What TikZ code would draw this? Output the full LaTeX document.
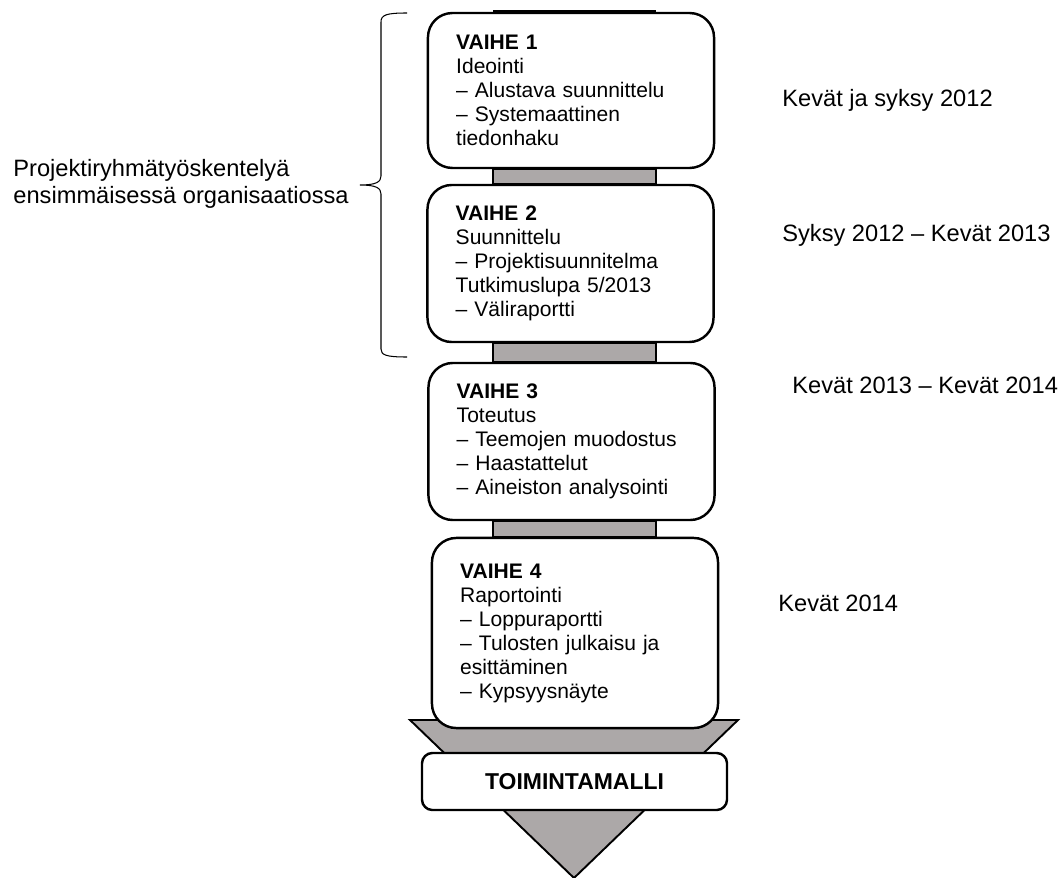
\documentclass[tikz,border=0pt]{standalone}
\usepackage{fontspec}
\setmainfont{Liberation Sans}
\usepackage{tikz}
\definecolor{flowgray}{RGB}{172,168,168}
\usetikzlibrary{calc}

\begin{document}
\begin{tikzpicture}[
    x=0.575pt, y=-0.575pt,
    phase/.style={rectangle, rounded corners=14pt, draw=black, line width=1.4pt, fill=white,
                  text width=132pt, inner xsep=16.25pt, inner ysep=4pt, align=left,
                  font=\fontsize{12.1}{13.8}\selectfont},
    joint/.style={draw=black, line width=1.1pt, fill=flowgray},
    sidetext/.style={anchor=west, inner sep=0pt, font=\fontsize{13.6}{15.4}\selectfont}
  ]
    \useasboundingbox (0,0) rectangle (1063,878);

    % big arrow behind the last phase
    \draw[joint] (410,720) -- (738,720) -- (574,878) -- cycle;
    \draw[line width=1.1pt] (493,11) -- (656,11);

    % Phases
    \node[phase, minimum height=89.1pt] (v1) at (571,90.5) {
      \textbf{VAIHE 1}\\ Ideointi\\ – Alustava suunnittelu\\ – Systemaattinen\\ tiedonhaku
    };
    \node[phase, minimum height=90.3pt] (v2) at (570.5,263.5) {
      \textbf{VAIHE 2}\\ Suunnittelu\\ – Projektisuunnitelma\\ Tutkimuslupa 5/2013\\ – Väliraportti
    };
    \node[phase, minimum height=90.3pt] (v3) at (571.5,441.5) {
      \textbf{VAIHE 3}\\ Toteutus\\ – Teemojen muodostus\\ – Haastattelut\\ – Aineiston analysointi
    };
    \node[phase, minimum height=109.3pt] (v4) at (575,633) {
      \textbf{VAIHE 4}\\ Raportointi\\ – Loppuraportti\\ – Tulosten julkaisu ja\\ esittäminen\\ – Kypsyysnäyte
    };

    % Joints between phases
    \draw[joint] (493,0 |- v1.south) rectangle (656,0 |- v2.north);
    \draw[joint] (493,0 |- v2.south) rectangle (656,0 |- v3.north);
    \draw[joint] (493,0 |- v3.south) rectangle (656,0 |- v4.north);

    % Result
    \node[rectangle, rounded corners=6pt, draw=black, line width=1.4pt, fill=white,
          minimum width=175.4pt, minimum height=32.8pt,
          font=\fontsize{13.2}{15}\selectfont\bfseries] (malli) at (574.5,781.5) {TOIMINTAMALLI};

    % Brace for the first two phases
    \coordinate (brace) at (360,185);
    \draw[line width=0.6pt] (407,13) .. controls (386,13) and (381,15) .. (381,22)
      -- (381,176) .. controls (381,182) and (376,185) .. (brace)
      .. controls (376,185) and (381,188) .. (381,194)
      -- (381,349) .. controls (381,355) and (386,357) .. (407,357);
    \node[anchor=east, inner sep=0pt, align=left, font=\fontsize{13.6}{15.4}\selectfont] (ryhma)
      at ($(brace)+(-11,-1)$) {Projektiryhmätyöskentelyä\\ ensimmäisessä organisaatiossa};

    % Timing
    \node[sidetext] (t1) at (782,100) {Kevät ja syksy 2012};
    \node[sidetext] (t2) at (782,235) {Syksy 2012 – Kevät 2013};
    \node[sidetext] (t3) at (792,385) {Kevät 2013 – Kevät 2014};
    \node[sidetext] (t4) at (778,603) {Kevät 2014};
  \end{tikzpicture}
\end{document}
